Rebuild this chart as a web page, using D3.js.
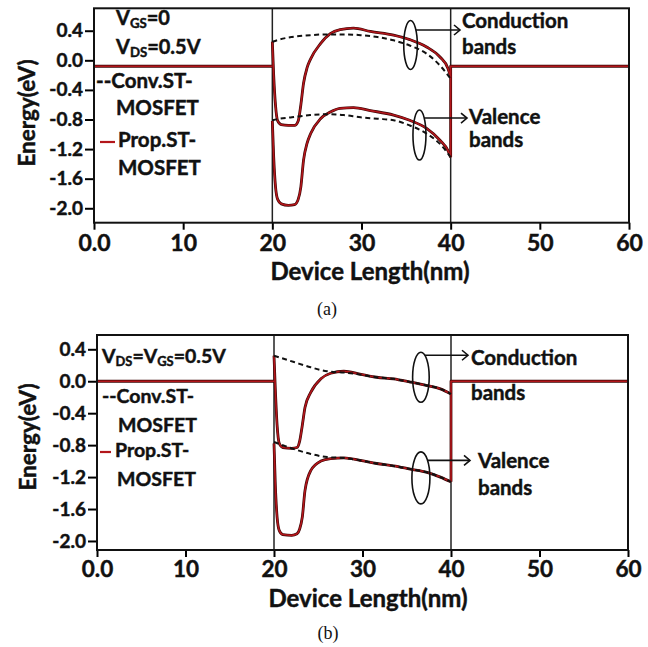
<!DOCTYPE html>
<html>
<head>
<meta charset="utf-8">
<script src="https://cdn.jsdelivr.net/npm/d3@7"></script>
<style>
  html, body { margin: 0; padding: 0; background: #fff; }
  svg { display: block; font-family: Lato, "Open Sans", sans-serif; font-weight: bold; }
  .heavy { stroke: #111; stroke-width: 0.45px; paint-order: stroke; }
</style>
</head>
<body>
<script>
// ---- shared axis values ----
const xTicks = [0, 10, 20, 30, 40, 50, 60];
const xTickLabels = ["0.0", "10", "20", "30", "40", "50", "60"];
const yTicks = [0.4, 0.0, -0.4, -0.8, -1.2, -1.6, -2.0];
const yTickLabels = ["0.4", "0.0", "-0.4", "-0.8", "-1.2", "-1.6", "-2.0"];
const regionEdges = [20, 40];   // source/channel and channel/drain boundaries (nm)

// ---- panel (a): VGS = 0, VDS = 0.5 V ----
const contactLevelA = -0.08;
const convXA    = [20, 20.75, 22.2, 24.25, 26.1, 28, 29.9, 31.8, 33.6, 35.4, 37.3, 38.8, 40];
const convCondA = [0.25, 0.28, 0.315, 0.34, 0.35, 0.35, 0.34, 0.315, 0.27, 0.20, 0.09, -0.07, -0.25];
const convValA  = [-0.81, -0.79, -0.77, -0.74, -0.73, -0.74, -0.77, -0.79, -0.81, -0.88, -0.99, -1.13, -1.31];
const propXA    = [20, 20.15, 20.35, 20.6, 21.0, 21.8, 22.5, 22.9, 23.2, 23.5, 23.9, 24.3, 25.4, 26.5, 27.6, 29.1, 31.0, 33.6, 35.4, 37.3, 38.8, 39.7, 40];
const propCondA = [0.25, -0.2, -0.6, -0.82, -0.87, -0.88, -0.88, -0.82, -0.6, -0.31, -0.1, 0.02, 0.225, 0.36, 0.415, 0.436, 0.39, 0.34, 0.28, 0.18, 0.045, -0.11, -0.225];
const propValA  = [-0.82, -1.3, -1.7, -1.88, -1.94, -1.96, -1.95, -1.88, -1.71, -1.35, -1.12, -0.99, -0.79, -0.70, -0.65, -0.64, -0.68, -0.74, -0.81, -0.92, -1.08, -1.22, -1.31];

// ---- panel (b): VDS = VGS = 0.5 V ----
const contactLevelB = 0.0;
const convXB    = [20, 22.26, 24.15, 26.0, 27.9, 29.7, 31.6, 33.5, 35.4, 37.3, 38.8, 40];
const convCondB = [0.32, 0.24, 0.175, 0.125, 0.11, 0.084, 0.05, 0.03, -0.01, -0.054, -0.095, -0.16];
const convValB  = [-0.76, -0.85, -0.91, -0.95, -0.96, -0.99, -1.03, -1.06, -1.10, -1.14, -1.20, -1.26];
const propXB    = [20, 20.15, 20.35, 20.6, 21.0, 22.0, 22.6, 22.9, 23.2, 23.5, 24.15, 25.3, 26.4, 27.9, 29.7, 31.6, 33.5, 35.4, 37.3, 38.8, 40];
const propCondB = [0.32, -0.1, -0.55, -0.78, -0.83, -0.84, -0.83, -0.75, -0.55, -0.33, -0.14, 0.03, 0.10, 0.125, 0.09, 0.05, 0.03, -0.01, -0.054, -0.095, -0.16];
const propValB  = [-0.78, -1.3, -1.7, -1.87, -1.92, -1.93, -1.91, -1.85, -1.70, -1.37, -1.12, -1.00, -0.97, -0.96, -0.99, -1.03, -1.06, -1.10, -1.14, -1.20, -1.26];

// band-group markers (nm, eV) where the ellipses sit
const markA = { cond: [35.5, 0.207], val: [36.5, -1.01] };
const markB = { cond: [36.6, 0.05],  val: [36.6, -1.21] };

const RED = "#b3161b";
const RED_EDGE = "#3a0505";

const W = 648, H = 647;
const svg = d3.select("body").append("svg").attr("width", W).attr("height", H);
svg.append("rect").attr("width", W).attr("height", H).attr("fill", "#fff");

function zip(xs, ys) { return xs.map((x, i) => [x, ys[i]]); }

function drawPanel(cfg) {
  const { box, yDomain } = cfg;
  const x = d3.scaleLinear().domain([0, 60]).range([box.left, box.right]);
  const y = d3.scaleLinear().domain(yDomain).range([box.bottom, box.top]);
  const g = svg.append("g");

  // axes
  const xAxis = d3.axisBottom(x).tickValues(xTicks)
    .tickFormat((d, i) => xTickLabels[i]).tickSize(7).tickSizeOuter(0).tickPadding(cfg.xTickPad);
  const gx = g.append("g").attr("transform", `translate(0,${box.bottom})`).call(xAxis);
  gx.select(".domain").remove();
  gx.selectAll(".tick line").attr("stroke", "#000").attr("stroke-width", 2);
  gx.selectAll(".tick text").attr("class", "heavy").attr("font-family", "Lato, sans-serif")
    .attr("font-weight", "bold").attr("font-size", cfg.xTickSize).attr("fill", "#111");

  const yAxis = d3.axisLeft(y).tickValues(yTicks)
    .tickFormat((d, i) => yTickLabels[i]).tickSize(9).tickSizeOuter(0).tickPadding(2);
  const gy = g.append("g").attr("transform", `translate(${box.left},0)`).call(yAxis);
  gy.select(".domain").remove();
  gy.selectAll(".tick line").attr("stroke", "#000").attr("stroke-width", 2);
  gy.selectAll(".tick text").attr("class", "heavy").attr("font-family", "Lato, sans-serif")
    .attr("font-weight", "bold").attr("font-size", cfg.yTickSize).attr("fill", "#111");

  // region boundaries
  g.selectAll("line.edge").data(regionEdges).join("line").attr("class", "edge")
    .attr("x1", d => x(d)).attr("x2", d => x(d))
    .attr("y1", box.top).attr("y2", box.bottom)
    .attr("stroke", "#222").attr("stroke-width", 1.5);

  const smooth = d3.line().x(d => x(d[0])).y(d => y(d[1])).curve(d3.curveMonotoneX);
  const straight = d3.line().x(d => x(d[0])).y(d => y(d[1]));

  // proposed device bands (solid red with dark edge)
  const lvl = cfg.contact;
  const propPaths = [
    straight([[0, lvl], [20, lvl]]),
    straight([[40, cfg.propVal[cfg.propVal.length - 1]], [40, lvl], [60, lvl]]),
    smooth(zip(cfg.propX, cfg.propCond)),
    smooth(zip(cfg.propX, cfg.propVal))
  ];
  propPaths.forEach(p => {
    g.append("path").attr("d", p).attr("fill", "none").attr("stroke", RED_EDGE)
      .attr("stroke-width", 2.8).attr("stroke-linejoin", "round");
  });
  propPaths.forEach(p => {
    g.append("path").attr("d", p).attr("fill", "none").attr("stroke", RED)
      .attr("stroke-width", 1.6).attr("stroke-linejoin", "round");
  });

  // conventional device bands (dashed black)
  [cfg.convCond, cfg.convVal].forEach(vals => {
    g.append("path").attr("d", smooth(zip(cfg.convX, vals))).attr("fill", "none")
      .attr("stroke", "#111").attr("stroke-width", 2).attr("stroke-dasharray", "5,3.5");
  });

  // frame
  g.append("rect").attr("x", box.left).attr("y", box.top)
    .attr("width", box.right - box.left).attr("height", box.bottom - box.top)
    .attr("fill", "none").attr("stroke", "#111").attr("stroke-width", 2);

  // band-group annotations
  cfg.notes.forEach(n => {
    const cx = x(n.at[0]), cy = y(n.at[1]);
    g.append("ellipse").attr("cx", cx).attr("cy", cy).attr("rx", n.rx).attr("ry", n.ry)
      .attr("fill", "none").attr("stroke", "#111").attr("stroke-width", 1.6);
    const ay = cy - n.dy;
    const ax0 = cx + n.rx * Math.sqrt(Math.max(0, 1 - (n.dy / n.ry) ** 2));
    const ax1 = n.arrowEnd;
    g.append("line").attr("x1", ax0).attr("x2", ax1).attr("y1", ay).attr("y2", ay)
      .attr("stroke", "#111").attr("stroke-width", 1.6);
    g.append("path").attr("d", `M${ax1 - 6},${ay - 5}L${ax1},${ay}L${ax1 - 6},${ay + 5}`)
      .attr("fill", "none").attr("stroke", "#111").attr("stroke-width", 1.6);
    n.lines.forEach(t => {
      g.append("text").attr("class", "heavy").attr("x", t.x).attr("y", t.y)
        .attr("font-size", cfg.noteSize).attr("fill", "#111").text(t.text);
    });
  });

  // legend
  cfg.legend.forEach(item => {
    const t = g.append("text").attr("class", "heavy").attr("x", item.x).attr("y", item.y)
      .attr("font-size", item.size).attr("fill", "#111");
    item.parts.forEach(p => {
      const ts = t.append("tspan").text(p.t);
      if (p.sub) ts.attr("font-size", "0.66em").attr("dy", 3);
      if (p.up) ts.attr("dy", -3);
    });
  });
  cfg.swatches.forEach(s => {
    g.append("line").attr("x1", s.x1).attr("x2", s.x2).attr("y1", s.y).attr("y2", s.y)
      .attr("stroke", RED).attr("stroke-width", 2.2);
  });

  // axis titles
  g.append("text").attr("class", "heavy")
    .attr("transform", `translate(${cfg.yTitle[0]},${cfg.yTitle[1]}) rotate(-90)`)
    .attr("text-anchor", "middle").attr("font-size", cfg.yTitleSize).attr("fill", "#111")
    .text("Energy(eV)");
  g.append("text").attr("class", "heavy").attr("x", cfg.xTitle[0]).attr("y", cfg.xTitle[1])
    .attr("text-anchor", "middle").attr("font-size", cfg.xTitleSize).attr("fill", "#111")
    .text("Device Length(nm)");

  // caption
  svg.append("text").attr("x", cfg.caption[0]).attr("y", cfg.caption[1])
    .attr("text-anchor", "middle").attr("font-family", "'Liberation Serif', 'DejaVu Serif', serif")
    .attr("font-weight", "normal").attr("font-size", 18).attr("fill", "#111")
    .text(cfg.captionText);
}

drawPanel({
  box: { left: 94, right: 629, top: 8.3, bottom: 222.7 },
  yDomain: [-2.195, 0.703],
  contact: contactLevelA,
  convX: convXA, convCond: convCondA, convVal: convValA,
  propX: propXA, propCond: propCondA, propVal: propValA,
  xTickSize: 23, xTickPad: 5, yTickSize: 19, xTitleSize: 24, yTitleSize: 22.5, noteSize: 20.5,
  xTitle: [370, 280], yTitle: [35, 113],
  caption: [327, 315], captionText: "(a)",
  notes: [
    { at: markA.cond, rx: 6.8, ry: 24.5, dy: 15, arrowEnd: 460,
      lines: [{ x: 462, y: 28, text: "Conduction" }, { x: 462, y: 54, text: "bands" }] },
    { at: markA.val, rx: 6.5, ry: 25, dy: 17, arrowEnd: 467,
      lines: [{ x: 469, y: 124, text: "Valence" }, { x: 469, y: 147, text: "bands" }] }
  ],
  legend: [
    { x: 116, y: 25, size: 20, parts: [{ t: "V" }, { t: "GS", sub: true }, { t: "=0", up: true }] },
    { x: 116, y: 54, size: 20, parts: [{ t: "V" }, { t: "DS", sub: true }, { t: "=0.5V", up: true }] },
    { x: 96, y: 88, size: 20.5, parts: [{ t: "--Conv.ST-" }] },
    { x: 116, y: 115, size: 20.5, parts: [{ t: "MOSFET" }] },
    { x: 118, y: 147, size: 20.5, parts: [{ t: "Prop.ST-" }] },
    { x: 118, y: 175, size: 20.5, parts: [{ t: "MOSFET" }] }
  ],
  swatches: [{ x1: 100, x2: 115, y: 142 }]
});

drawPanel({
  box: { left: 97, right: 628, top: 335, bottom: 550 },
  yDomain: [-2.113, 0.579],
  contact: contactLevelB,
  convX: convXB, convCond: convCondB, convVal: convValB,
  propX: propXB, propCond: propCondB, propVal: propValB,
  xTickSize: 22.5, xTickPad: 4, yTickSize: 19, xTitleSize: 24, yTitleSize: 22.5, noteSize: 20.5,
  xTitle: [368, 607], yTitle: [36, 437],
  caption: [328, 639], captionText: "(b)",
  notes: [
    { at: markB.cond, rx: 8.3, ry: 25, dy: 22, arrowEnd: 468,
      lines: [{ x: 471, y: 365, text: "Conduction" }, { x: 471, y: 400, text: "bands" }] },
    { at: markB.val, rx: 9, ry: 26, dy: 17.5, arrowEnd: 470,
      lines: [{ x: 478, y: 468, text: "Valence" }, { x: 478, y: 495, text: "bands" }] }
  ],
  legend: [
    { x: 102, y: 363, size: 19.5, parts: [{ t: "V" }, { t: "DS", sub: true }, { t: "=V", up: true }, { t: "GS", sub: true }, { t: "=0.5V", up: true }] },
    { x: 102, y: 403, size: 19.5, parts: [{ t: "--Conv.ST-" }] },
    { x: 118, y: 432, size: 19.5, parts: [{ t: "MOSFET" }] },
    { x: 115, y: 457, size: 19.5, parts: [{ t: "Prop.ST-" }] },
    { x: 117, y: 486, size: 19.5, parts: [{ t: "MOSFET" }] }
  ],
  swatches: [{ x1: 100, x2: 111, y: 452 }]
});
</script>
</body>
</html>
